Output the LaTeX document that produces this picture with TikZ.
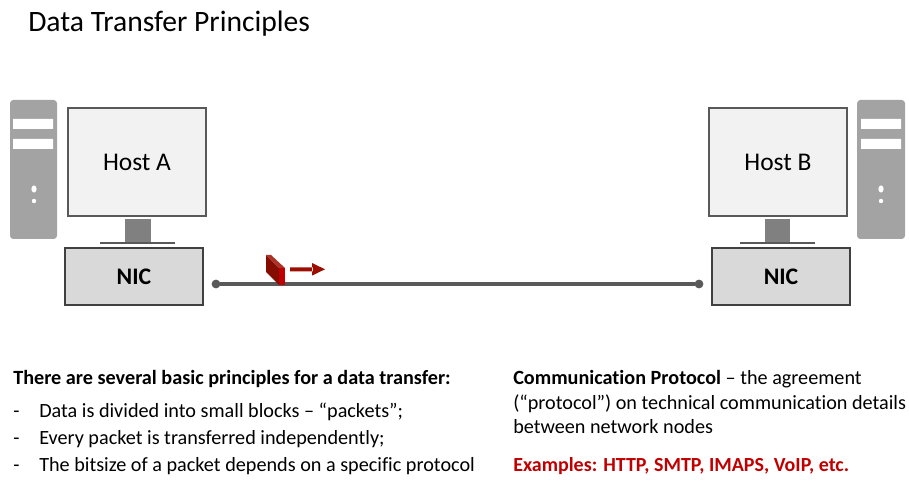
\documentclass[tikz,border=0pt]{standalone}
\usepackage{fontspec}
\setmainfont{Carlito}[Ligatures=NoCommon]
\definecolor{towergray}{HTML}{A3A3A3}
\definecolor{edgegray}{HTML}{595959}
\definecolor{standgray}{HTML}{808080}
\definecolor{screenfill}{HTML}{F2F2F2}
\definecolor{nicfill}{HTML}{D9D9D9}
\definecolor{packetred}{HTML}{9C0E00}
\definecolor{protored}{HTML}{C00000}
\tikzset{
  screenbox/.style={draw=edgegray,line width=1.5pt,fill=screenfill,minimum width=103.5pt,minimum height=81pt,inner sep=0pt,font=\fontsize{19.1}{23}\selectfont},
  nicbox/.style={draw=black!75,line width=0.8pt,fill=nicfill,minimum width=103.5pt,minimum height=42.75pt,inner sep=0pt,font=\fontsize{17.8}{21}\selectfont\bfseries},
  tower/.style={fill=towergray,rounded corners=2.5pt},
  portdot/.style={circle,fill=edgegray,minimum size=6.6pt,inner sep=0pt,outer sep=0pt},
  txt/.style={anchor=base west,inner sep=0pt,font=\fontsize{15.15}{18}\selectfont},
  btxt/.style={anchor=base west,inner sep=0pt,font=\fontsize{15.15}{18}\selectfont\bfseries},
}
\begin{document}
\begin{tikzpicture}[x=0.75pt,y=-0.75pt]
\useasboundingbox (0,0) rectangle (909,484);
\node[anchor=base west,inner sep=0pt,font=\fontsize{22.2}{26}\selectfont] (title) at (28,32) {Data Transfer Principles};
% host A
\fill[tower] (10,100) rectangle (57,239);
\fill[white] (13,119) rectangle (53,129) (13,139) rectangle (53,149);
\fill[white] (34,189) ellipse (2.6 and 3.6) (34,201) circle (2.2);
\fill[standgray] (125,219) rectangle (151,243);
\draw[edgegray,line width=0.9pt] (100,243) -- (175,243);
\node[screenbox] (hosta) at (137,162) {Host A};
\node[nicbox] (nica) at (134,276.5) {\raisebox{-0.6pt}{NIC}};
% host B
\fill[tower] (857,100) rectangle (905,239);
\fill[white] (861,119) rectangle (901,129) (861,139) rectangle (901,149);
\fill[white] (881,189) ellipse (2.6 and 3.6) (881,201) circle (2.2);
\fill[standgray] (765,219) rectangle (790,243);
\draw[edgegray,line width=0.9pt] (740,243) -- (815,243);
\node[screenbox] (hostb) at (778,162) {Host B};
\node[nicbox] (nicb) at (781,276.5) {\raisebox{-0.6pt}{NIC}};
% link
\node[portdot] (pa) at (216,284) {};
\node[portdot] (pb) at (699,284) {};
\draw[edgegray,line width=2.4pt] (pa) -- (pb);
% packet
\fill[packetred!85!black] (266,255) -- (279,268) -- (279,285) -- (266,272) -- cycle;
\fill[packetred!85!white] (266,255) -- (271,255) -- (285,268) -- (279,268) -- cycle;
\fill[protored] (279,268) rectangle (285,285);
\fill[packetred] (290,267.3) rectangle (313,271.3) (312,263) -- (325,269.3) -- (312,275.6) -- cycle;
% texts
\node[btxt] (h1) at (13,384) {There are several basic principles for a data transfer:};
\node[txt] (d1) at (13,417) {-};
\node[txt] (l1) at (39,417) {Data is divided into small blocks – “packets”;};
\node[txt] (d2) at (13,444) {-};
\node[txt] (l2) at (39,444) {Every packet is transferred independently;};
\node[txt] (d3) at (13,471) {-};
\node[txt] (l3) at (39,471) {The bitsize of a packet depends on a specific protocol};
\node[txt] (p1) at (513,384) {\textbf{Communication Protocol} – the agreement};
\node[txt] (p2) at (513,409) {(“protocol”) on technical communication details};
\node[txt] (p3) at (513,433) {between network nodes};
\node[btxt,text=protored,font=\fontsize{15}{18}\selectfont\bfseries] (ex) at (513,471) {Examples: HTTP, SMTP, IMAPS, VoIP, etc.};
\end{tikzpicture}
\end{document}
